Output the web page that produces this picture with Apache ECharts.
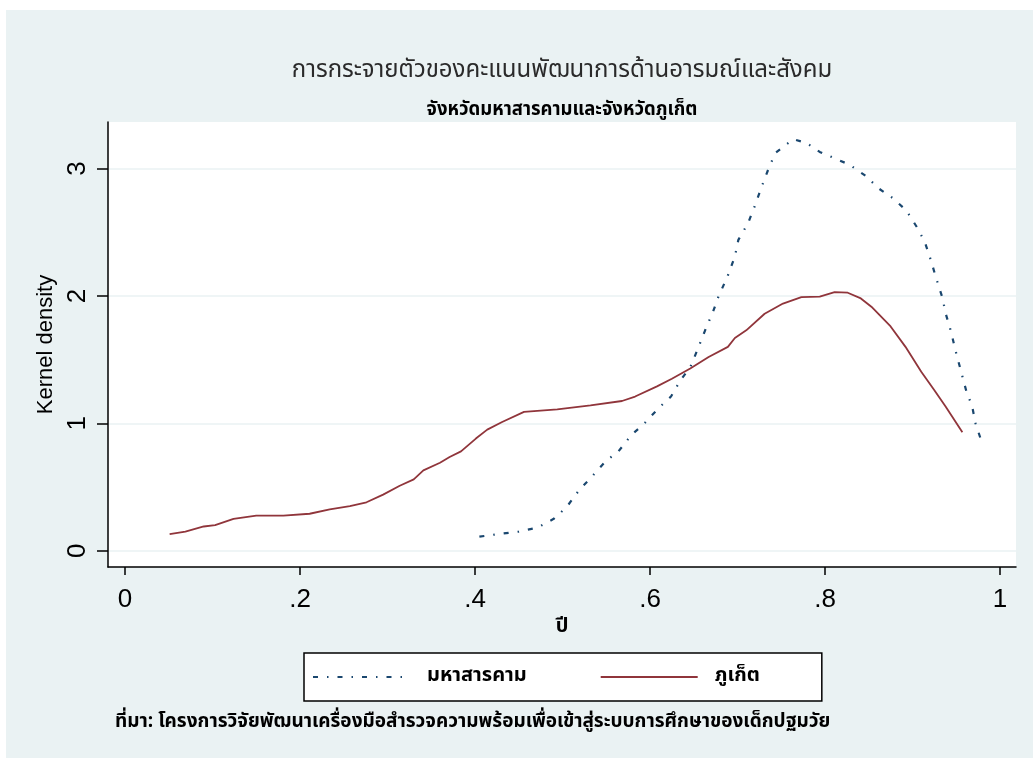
<!DOCTYPE html>
<html>
<head>
<meta charset="utf-8">
<script src="https://cdn.jsdelivr.net/npm/echarts@6/dist/echarts.min.js"></script>
<style>
html,body{margin:0;padding:0;background:#fff;}
#bg{position:absolute;left:6px;top:10px;width:1027px;height:748px;background:#eaf2f3;}
#chart{position:absolute;left:0;top:0;width:1033px;height:758px;}
</style>
</head>
<body>
<div id="bg"></div>
<div id="chart"></div>
<script>
// ---- data ----
const titleText = 'การกระจายตัวของคะแนนพัฒนาการด้านอารมณ์และสังคม';
const subtitleText = 'จังหวัดมหาสารคามและจังหวัดภูเก็ต';
const noteText = 'ที่มา: โครงการวิจัยพัฒนาเครื่องมือสำรวจความพร้อมเพื่อเข้าสู่ระบบการศึกษาของเด็กปฐมวัย';
const xAxisTitle = 'ปี';
const yAxisTitle = 'Kernel density';
const seriesNames = ['มหาสารคาม', 'ภูเก็ต'];
const xTicks = [0, 0.2, 0.4, 0.6, 0.8, 1];
const xTickLabels = ['0', '.2', '.4', '.6', '.8', '1'];
const yTicks = [0, 1, 2, 3];

const mahaX = [0.405,0.426,0.450,0.471,0.490,0.505,0.519,0.534,0.549,0.564,0.579,0.593,0.610,0.624,0.635,0.646,0.655,0.663,0.672,0.678,0.689,0.697,0.701,0.712,0.720,0.727,0.735,0.743,0.754,0.764,0.779,0.794,0.811,0.828,0.847,0.861,0.877,0.893,0.905,0.914,0.921,0.927,0.934,0.938,0.944,0.949,0.955,0.962,0.968,0.972,0.979];
const mahaY = [0.11,0.13,0.15,0.18,0.25,0.345,0.475,0.585,0.70,0.78,0.91,0.995,1.12,1.21,1.34,1.44,1.59,1.73,1.875,1.99,2.16,2.31,2.44,2.57,2.71,2.845,2.99,3.12,3.18,3.23,3.20,3.13,3.08,3.03,2.94,2.845,2.77,2.67,2.54,2.425,2.28,2.14,1.99,1.86,1.72,1.575,1.42,1.24,1.14,1.00,0.855];

const phuketX = [0.051,0.069,0.090,0.103,0.124,0.150,0.181,0.211,0.234,0.257,0.276,0.295,0.314,0.330,0.341,0.360,0.371,0.384,0.401,0.414,0.431,0.456,0.494,0.532,0.568,0.583,0.608,0.625,0.646,0.667,0.689,0.697,0.710,0.731,0.752,0.773,0.794,0.811,0.826,0.841,0.853,0.875,0.892,0.910,0.925,0.938,0.957];
const phuketY = [0.13,0.15,0.19,0.20,0.25,0.275,0.275,0.29,0.325,0.35,0.38,0.44,0.51,0.56,0.63,0.69,0.735,0.78,0.88,0.95,1.01,1.09,1.11,1.14,1.175,1.21,1.29,1.35,1.43,1.52,1.60,1.67,1.73,1.86,1.94,1.99,1.995,2.03,2.025,1.98,1.915,1.76,1.60,1.405,1.26,1.13,0.93];

const zip = (xs, ys) => xs.map((x, i) => [x, ys[i]]);

const thaiFont = 'Tahoma, "Noto Sans Thai", "Noto Sans", "DejaVu Sans", sans-serif';
const latinFont = 'Arial, "Liberation Sans", sans-serif';

const chart = echarts.init(document.getElementById('chart'), null, {renderer: 'canvas'});
chart.setOption({
  backgroundColor: 'transparent',
  animation: false,
  graphic: [
    {type: 'text', style: {text: titleText, x: 562, y: 72, textAlign: 'center', textVerticalAlign: 'middle', fill: '#2a2a2a', font: '24px ' + thaiFont}},
    {type: 'text', style: {text: subtitleText, x: 562, y: 111, textAlign: 'center', textVerticalAlign: 'middle', fill: '#000', font: 'bold 18.5px ' + thaiFont}},
    {type: 'text', style: {text: noteText, x: 115, y: 723, textAlign: 'left', textVerticalAlign: 'middle', fill: '#000', font: 'bold 19px ' + thaiFont}}
  ],
  grid: {left: 108, top: 122, width: 908, height: 445, show: true, backgroundColor: '#ffffff', borderWidth: 0, containLabel: false},
  legend: {
    left: 304, top: 653,
    data: seriesNames,
    orient: 'horizontal',
    itemWidth: 97, itemHeight: 12, itemGap: 73,
    padding: [14, 62, 14, 8],
    borderColor: '#000', borderWidth: 1.5, backgroundColor: '#fff',
    itemStyle: {opacity: 0},
    textStyle: {color: '#000', fontSize: 20, fontWeight: 'bold', fontFamily: thaiFont, padding: [0, 0, 0, 12]}
  },
  xAxis: {
    type: 'value',
    min: -0.01943, max: 1.01829,
    name: xAxisTitle, nameLocation: 'middle', nameGap: 49,
    nameTextStyle: {fontSize: 20, fontWeight: 'bold', color: '#000', fontFamily: thaiFont},
    axisLine: {onZero: false, lineStyle: {color: '#000', width: 1.5}},
    axisTick: {show: true, length: 8, lineStyle: {color: '#000', width: 1.5}, customValues: xTicks},
    axisLabel: {customValues: xTicks, margin: 20, fontSize: 26, color: '#000', fontFamily: latinFont,
      formatter: v => { const i = xTicks.findIndex(t => Math.abs(t - v) < 1e-9); return i >= 0 ? xTickLabels[i] : ''; }},
    splitLine: {show: false}
  },
  yAxis: {
    type: 'value',
    min: -0.128, max: 3.365,
    name: yAxisTitle, nameLocation: 'middle', nameGap: 46, nameRotate: 90,
    nameTextStyle: {fontSize: 22, color: '#000', fontFamily: latinFont},
    axisLine: {show: true, onZero: false, lineStyle: {color: '#000', width: 1.5}},
    axisTick: {show: true, length: 11, lineStyle: {color: '#000', width: 1.5}, customValues: yTicks},
    axisLabel: {customValues: yTicks, rotate: 90, margin: 17, fontSize: 26, color: '#000', fontFamily: latinFont,
      formatter: v => String(Math.round(v))},
    splitLine: {show: true, lineStyle: {color: '#eaf2f3', width: 1.5}}
  },
  series: [
    {name: seriesNames[0], type: 'line', data: zip(mahaX, mahaY), symbol: 'none', smooth: false,
     lineStyle: {color: '#1a476f', width: 2.2, type: [5, 9, 1.5, 9]}, itemStyle: {color: '#1a476f'}},
    {name: seriesNames[1], type: 'line', data: zip(phuketX, phuketY), symbol: 'none', smooth: false,
     lineStyle: {color: '#90353b', width: 1.8}, itemStyle: {color: '#90353b'}}
  ]
});
</script>
</body>
</html>
